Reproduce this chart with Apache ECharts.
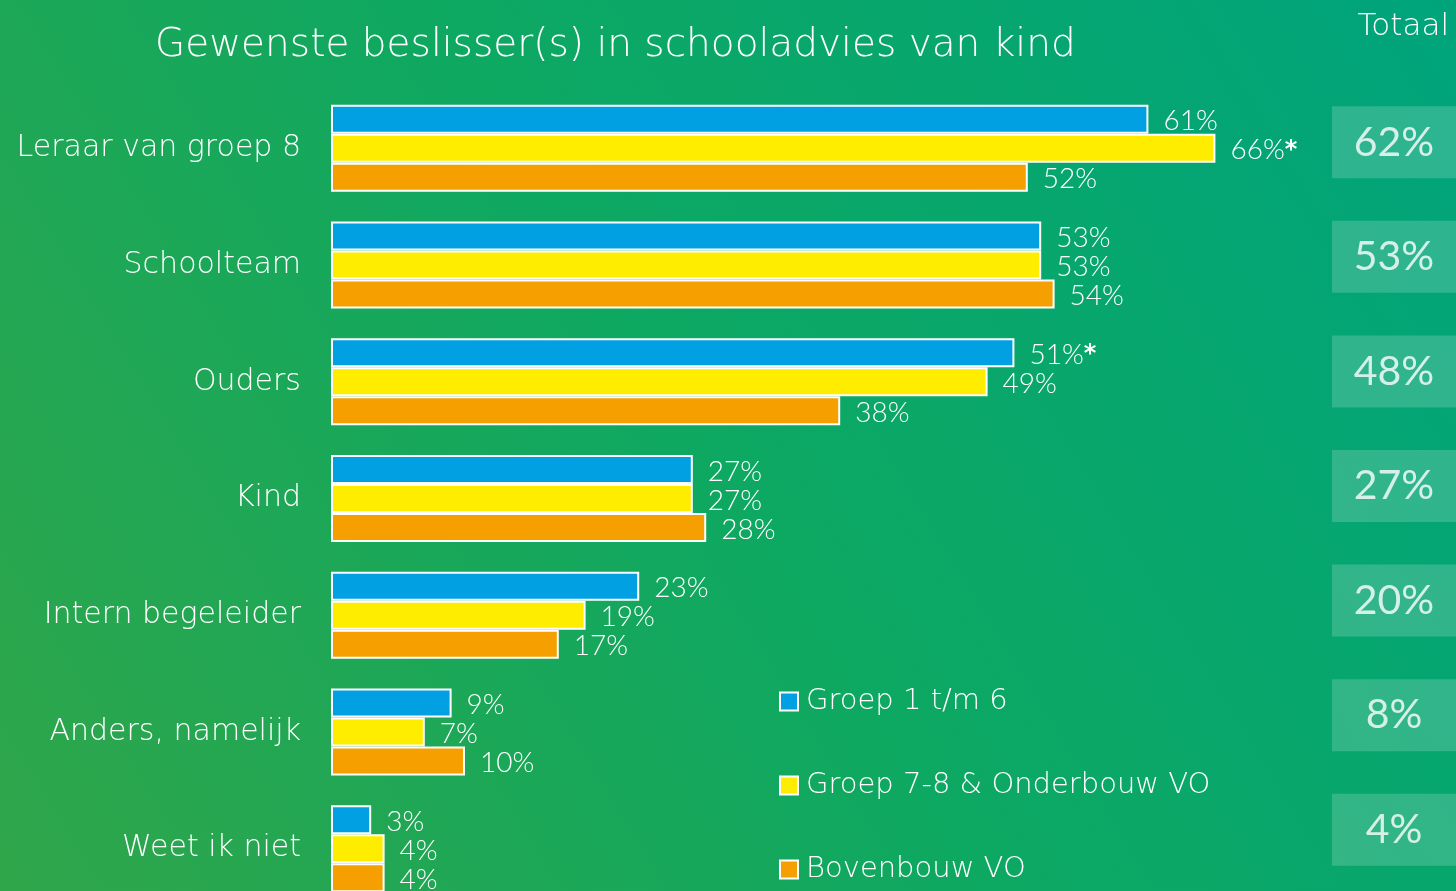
<!DOCTYPE html>
<html>
<head>
<meta charset="utf-8">
<script src="https://cdn.jsdelivr.net/npm/echarts@6/dist/echarts.min.js"></script>
<style>
  html, body { margin: 0; padding: 0; }
  #chart { width: 1456px; height: 891px; }
</style>
</head>
<body>
<div id="chart"></div>
<script>
// data
const categories = ['Leraar van groep 8', 'Schoolteam', 'Ouders', 'Kind', 'Intern begeleider', 'Anders, namelijk', 'Weet ik niet'];
const seriesNames = ['Groep 1 t/m 6', 'Groep 7-8 & Onderbouw VO', 'Bovenbouw VO'];
const groep1t6 = [61, 53, 51, 27, 23, 9, 3];
const groep78 = [66, 53, 49, 27, 19, 7, 4];
const bovenbouw = [52, 54, 38, 28, 17, 10, 4];
const totaal = [62, 53, 48, 27, 20, 8, 4];
// significance markers behind the labels
const marks1t6 = ['', '', '*', '', '', '', ''];
const marks78 = ['*', '', '', '', '', '', ''];
const marksBoven = ['', '', '', '', '', '', ''];

const FONT = 'Lato, "Open Sans", sans-serif';
const WIDE = '"DejaVu Sans", Lato, sans-serif';
const colors = ['#00A0E3', '#FFED00', '#F5A000'];

const chart = echarts.init(document.getElementById('chart'));

const makeBar = (name, data, marks, color) => ({
    name: name,
    type: 'bar',
    xAxisIndex: 0,
    yAxisIndex: 0,
    data: data,
    barWidth: 29,
    barGap: '0%',
    itemStyle: { color: color, borderColor: '#ffffff', borderWidth: 2 },
    label: {
        show: true,
        position: 'right',
        distance: 15,
        offset: [0, 2],
        color: '#ffffff',
        fontFamily: FONT,
        fontWeight: 300,
        fontSize: 28,
        formatter: p => p.value + '%' + (marks[p.dataIndex] ? '{star|' + marks[p.dataIndex] + '}' : ''),
        rich: {
            star: { color: '#ffffff', fontFamily: 'DejaVu Sans', fontWeight: 'bold', fontSize: 24 }
        }
    },
    emphasis: { disabled: true }
});

const option = {
    animation: false,
    backgroundColor: new echarts.graphic.LinearGradient(1, 0, 0, 1, [
        { offset: 0, color: '#00A47C' },
        { offset: 0.5, color: '#0DA862' },
        { offset: 1, color: '#30A64A' }
    ]),
    title: {
        text: 'Gewenste beslisser(s) in schooladvies van kind',
        left: 150,
        top: 21,
        textStyle: { color: '#ffffff', fontFamily: WIDE, fontWeight: 200, fontSize: 39 }
    },
    graphic: [{
        type: 'text',
        right: 7,
        top: 11,
        style: { text: 'Totaal', fill: '#ffffff', font: '200 31px ' + WIDE }
    }],
    legend: {
        orient: 'vertical',
        left: 774,
        top: 682,
        itemGap: 55,
        itemWidth: 18,
        itemHeight: 18,
        icon: 'rect',
        data: seriesNames,
        textStyle: { color: '#ffffff', fontFamily: WIDE, fontWeight: 200, fontSize: 29, padding: [0, 0, 0, 3] },
        selectedMode: false
    },
    grid: [
        { left: 331, right: 53, top: 90, bottom: -16, outerBoundsMode: 'none' },
        { left: 1332, right: 0, top: 85, bottom: 4, outerBoundsMode: 'none' }
    ],
    xAxis: [
        { type: 'value', gridIndex: 0, min: 0, max: 80, show: false },
        { type: 'value', gridIndex: 1, min: 0, max: 1, show: false }
    ],
    yAxis: [
        {
            type: 'category',
            gridIndex: 0,
            data: categories,
            inverse: true,
            axisLine: { show: false },
            axisTick: { show: false },
            axisLabel: { color: '#ffffff', fontFamily: WIDE, fontWeight: 200, fontSize: 30, margin: 30, padding: [6, 0, 0, 0] }
        },
        {
            type: 'category',
            gridIndex: 1,
            data: categories,
            inverse: true,
            show: false
        }
    ],
    series: [
        makeBar(seriesNames[0], groep1t6, marks1t6, colors[0]),
        makeBar(seriesNames[1], groep78, marks78, colors[1]),
        makeBar(seriesNames[2], bovenbouw, marksBoven, colors[2]),
        {
            name: 'Totaal',
            type: 'scatter',
            xAxisIndex: 1,
            yAxisIndex: 1,
            symbol: 'rect',
            symbolSize: [124, 72],
            data: totaal.map((v, i) => [0.5, i, v]),
            itemStyle: { color: 'rgba(255,255,255,0.22)' },
            label: {
                show: true,
                position: 'inside',
                color: '#ffffff',
                fontFamily: FONT,
                fontWeight: 400,
                fontSize: 41,
                formatter: p => p.value[2] + '%'
            },
            emphasis: { disabled: true }
        }
    ]
};

chart.setOption(option);
</script>
</body>
</html>
